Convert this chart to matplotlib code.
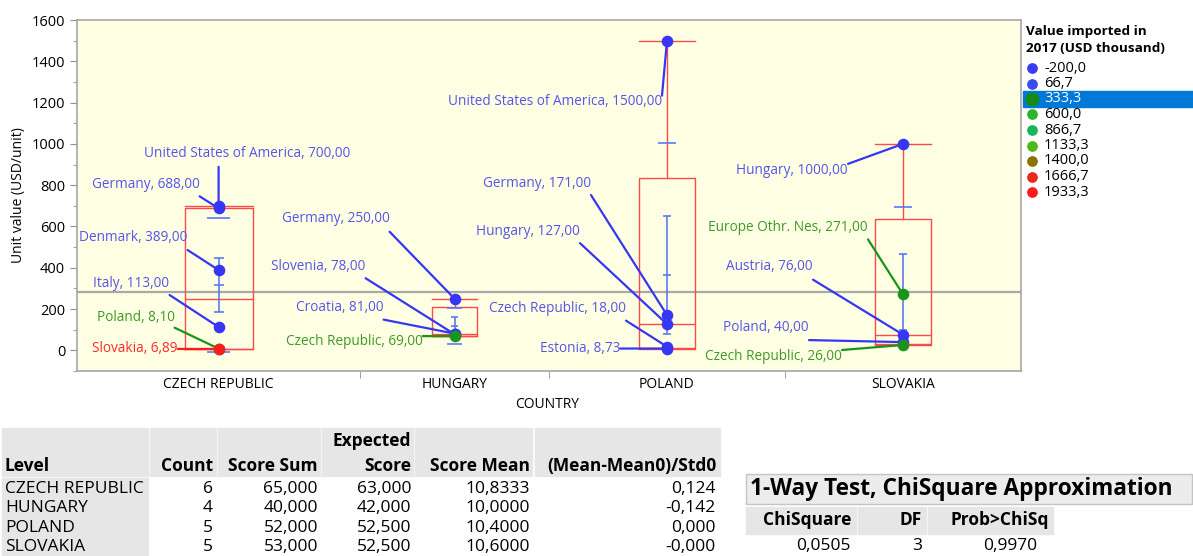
import numpy as np
import matplotlib.pyplot as plt
from matplotlib.patches import Rectangle

plt.rcParams['font.family'] = ['Open Sans', 'DejaVu Sans']

# Data
countries = ['CZECH REPUBLIC', 'HUNGARY', 'POLAND', 'SLOVAKIA']
partners = [
    ['United States of America', 'Germany', 'Denmark', 'Italy', 'Poland', 'Slovakia'],
    ['Germany', 'Slovenia', 'Croatia', 'Czech Republic'],
    ['United States of America', 'Germany', 'Hungary', 'Czech Republic', 'Estonia'],
    ['Hungary', 'Europe Othr. Nes', 'Austria', 'Poland', 'Czech Republic'],
]
unit_values = [
    [700, 688, 389, 113, 8.10, 6.89],
    [250, 78, 81, 69],
    [1500, 171, 127, 18, 8.73],
    [1000, 271, 76, 40, 26],
]
# band of the 2017 import value, sets the marker colour
import_band = [
    ['low', 'low', 'low', 'low', 'mid', 'high'],
    ['low', 'low', 'low', 'mid'],
    ['low', 'low', 'low', 'low', 'low'],
    ['low', 'mid', 'low', 'low', 'mid'],
]
legend_levels = ['-200,0', '66,7', '333,3', '600,0', '866,7', '1133,3', '1400,0', '1666,7', '1933,3']

# Wilcoxon / Kruskal-Wallis tables
table_level = countries
table_count = [6, 4, 5, 5]
table_score_sum = [65.0, 40.0, 52.0, 53.0]
table_expected = [63.0, 42.0, 52.5, 52.5]
table_score_mean = [10.8333, 10.0, 10.4, 10.6]
table_std0 = [0.124, -0.142, 0.0, -0.0]
chi_square = 0.0505
chi_df = 3
chi_prob = 0.9970

# Styles
W, H = 1193, 556
legend_colors = ['#3a3af2', '#3a4cf0', '#178a17', '#2bb52b', '#19b35c',
                 '#4cb819', '#8a7400', '#e8291a', '#ff1a1a']
mark_col = {'low': '#3636f5', 'mid': '#1a941a', 'high': '#ff1c1c'}
text_col = {'low': '#5555ea', 'mid': '#3c9a24', 'high': '#ff2a2a'}
box_col = '#ff4a4a'
mean_col = '#5b7af5'

# label offsets in pixels: text dx, dy, alignment, line start dx, dy
label_pos = [
    [(29, 52, 'center', 0, 39), (-19, 24, 'right', -19, 12), (-31, 33, 'right', -31, 20),
     (-49, 44, 'right', -49, 32), (-44, 31, 'right', -44, 21), (-41, 0, 'right', -41, 0)],
    [(-65, 80, 'right', -65, 67), (-89, 68, 'right', -89, 56), (-71, 26, 'right', -71, 14),
     (-32, -5, 'right', -32, 0)],
    [(-5, -61, 'right', -5, -55), (-76, 132, 'right', -76, 120), (-87, 93, 'right', -87, 81),
     (-41, 38, 'right', -41, 26), (-47, 0, 'right', -47, 0)],
    [(-55, -27, 'right', -55, -20), (-35, 67, 'right', -35, 55), (-90, 68, 'right', -90, 55),
     (-94, 15, 'right', -94, 2), (-61, -12, 'right', -61, -5)],
]


def fx(px):
    return px / W


def fy(py):
    return 1 - py / H


def jmp_quantile(v, p):
    s = np.sort(v)
    pos = p * (len(s) + 1) - 1
    lo = int(np.floor(pos))
    lo = min(max(lo, 0), len(s) - 1)
    hi = min(lo + 1, len(s) - 1)
    return s[lo] + (pos - lo) * (s[hi] - s[lo])


def comma(v, nd):
    return f'{v:.{nd}f}'.replace('.', ',')


fig = plt.figure(figsize=(W / 100, H / 100), dpi=100)
ax = fig.add_axes([fx(77), fy(371), (1021 - 77) / W, (371 - 20) / H])
ax.set_facecolor('#ffffe3')

counts = np.array([len(v) for v in unit_values])
edges = np.concatenate([[0], np.cumsum(counts)])
centers = (edges[:-1] + edges[1:]) / 2
widths = 0.24 * counts

# Box plots
stats = []
for vals in unit_values:
    v = np.array(vals, dtype=float)
    stats.append(dict(med=jmp_quantile(v, 0.5), q1=jmp_quantile(v, 0.25),
                      q3=jmp_quantile(v, 0.75), whislo=v.min(), whishi=v.max(),
                      fliers=[]))
lp = dict(color=box_col, lw=1.0)
ax.bxp(stats, positions=centers, widths=widths, capwidths=widths, showfliers=False,
       boxprops=lp, whiskerprops=lp, capprops=lp, medianprops=lp,
       manage_ticks=False, zorder=2)

# Grand mean
all_vals = np.concatenate([np.array(v, dtype=float) for v in unit_values])
ax.axhline(all_vals.mean(), color='#a9a9a9', lw=1.6, zorder=1)

# Mean error bars and std dev lines
for c, n, vals in zip(centers, counts, unit_values):
    v = np.array(vals, dtype=float)
    m, sd = v.mean(), v.std(ddof=1)
    se = sd / np.sqrt(len(v))
    w_se, w_sd = 0.035 * n, 0.08 * n
    ax.vlines(c, m - se, m + se, color=mean_col, lw=1.2, zorder=3)
    ax.hlines([m - se, m, m + se], c - w_se / 2, c + w_se / 2, color=mean_col, lw=1.2, zorder=3)
    ax.hlines([m - sd, m + sd], c - w_sd / 2, c + w_sd / 2, color=mean_col, lw=1.2, zorder=3)

# Points and labels
for c, names, vals, bands, pos in zip(centers, partners, unit_values, import_band, label_pos):
    for name, v, b, (tdx, tdy, ha, ldx, ldy) in zip(names, vals, bands, pos):
        ax.annotate('', xy=(c, v), xytext=(ldx, ldy), textcoords='offset pixels',
                    arrowprops=dict(arrowstyle='-', color=mark_col[b], lw=1.6,
                                    shrinkA=0, shrinkB=0), zorder=4)
        ax.annotate(f'{name}, {comma(v, 2)}', xy=(c, v), xytext=(tdx, tdy),
                    textcoords='offset pixels', ha=ha, va='center',
                    color=text_col[b], fontsize=9.8, zorder=6)
        ax.scatter(c, v, s=70, color=mark_col[b], zorder=5, linewidths=0)

ax.set_xlim(edges[0], edges[-1])
ax.set_ylim(-100, 1600)
ax.set_yticks(np.arange(0, 1601, 200))
ax.set_yticks(np.arange(-100, 1601, 100), minor=True)
ax.set_xticks(centers, countries)
ax.set_xticks(edges[1:-1], minor=True)
ax.tick_params(axis='y', which='major', length=5, color='#909090', labelsize=10.5)
ax.tick_params(axis='y', which='minor', length=3, color='#909090')
ax.tick_params(axis='x', which='major', length=0, labelsize=10, pad=4)
ax.tick_params(axis='x', which='minor', length=5, color='#909090')
for s in ax.spines.values():
    s.set_color('#a6a6a6')
    s.set_linewidth(1.2)

fig.text(fx(547), fy(405), 'COUNTRY', ha='center', va='center', fontsize=10)
fig.text(fx(19), fy(195), 'Unit value (USD/unit)', ha='center', va='center',
         rotation=90, fontsize=10)

# Legend
fig.text(fx(1026), fy(31), 'Value imported in', ha='left', va='center',
         fontsize=9.7, fontweight='bold')
fig.text(fx(1026), fy(49), '2017 (USD thousand)', ha='left', va='center',
         fontsize=9.7, fontweight='bold')
for i, (lev, col) in enumerate(zip(legend_levels, legend_colors)):
    yy = 68 + i * 15.5
    tc = 'black'
    sz = 45
    if i == 2:
        fig.patches.append(Rectangle((fx(1023), fy(yy + 7.5)), 170 / W, 15 / H,
                                     transform=fig.transFigure, color='#0078d7', zorder=0))
        tc = 'white'
        sz = 80
    fig.add_artist(plt.Line2D([fx(1032)], [fy(yy)], marker='o', ms=np.sqrt(sz),
                              color=col, lw=0, transform=fig.transFigure))
    fig.text(fx(1044), fy(yy), lev, ha='left', va='center', fontsize=10.5, color=tc)


def frect(x0, y0, x1, y1, **kw):
    fig.patches.append(Rectangle((fx(x0), fy(y1)), (x1 - x0) / W, (y1 - y0) / H,
                                 transform=fig.transFigure, **kw))


# Score table
col_edges = [(2, 148), (150, 216), (218, 320), (322, 413), (415, 532), (535, 720)]
for l, r in col_edges:
    frect(l, 428, r, 476, color='#e6e6e6')
frect(2, 478, 148, 556, color='#e6e6e6')
hdr = dict(fontsize=12.5, fontweight='bold', va='center')
fig.text(fx(5), fy(466), 'Level', ha='left', **hdr)
fig.text(fx(213), fy(466), 'Count', ha='right', **hdr)
fig.text(fx(318), fy(466), 'Score Sum', ha='right', **hdr)
fig.text(fx(411), fy(441), 'Expected', ha='right', **hdr)
fig.text(fx(411), fy(466), 'Score', ha='right', **hdr)
fig.text(fx(530), fy(466), 'Score Mean', ha='right', **hdr)
fig.text(fx(716), fy(466), '(Mean-Mean0)/Std0', ha='right', **hdr)
row_y = [489, 508, 528, 547]
body = dict(fontsize=12.5, va='center', ha='right')
for i, y in enumerate(row_y):
    fig.text(fx(5), fy(y), table_level[i], fontsize=12.5, va='center', ha='left')
    fig.text(fx(213), fy(y), str(table_count[i]), **body)
    fig.text(fx(318), fy(y), comma(table_score_sum[i], 3), **body)
    fig.text(fx(411), fy(y), comma(table_expected[i], 3), **body)
    fig.text(fx(530), fy(y), comma(table_score_mean[i], 4), **body)
    fig.text(fx(716), fy(y), comma(table_std0[i], 3), **body)

# ChiSquare table
frect(746, 474, 1192, 504, facecolor='#ececec', edgecolor='#c4c4c4', lw=1)
fig.text(fx(750), fy(489), '1-Way Test, ChiSquare Approximation', ha='left', va='center',
         fontsize=16.3, fontweight='bold')
for l, r in [(746, 856), (858, 926), (928, 1053)]:
    frect(l, 507, r, 534, color='#e6e6e6')
fig.text(fx(851), fy(520), 'ChiSquare', ha='right', **hdr)
fig.text(fx(922), fy(520), 'DF', ha='right', **hdr)
fig.text(fx(1049), fy(520), 'Prob>ChiSq', ha='right', **hdr)
fig.text(fx(851), fy(546), comma(chi_square, 4), **body)
fig.text(fx(922), fy(546), str(chi_df), **body)
fig.text(fx(1037), fy(546), comma(chi_prob, 4), **body)

fig.savefig('out.png', dpi=100)
